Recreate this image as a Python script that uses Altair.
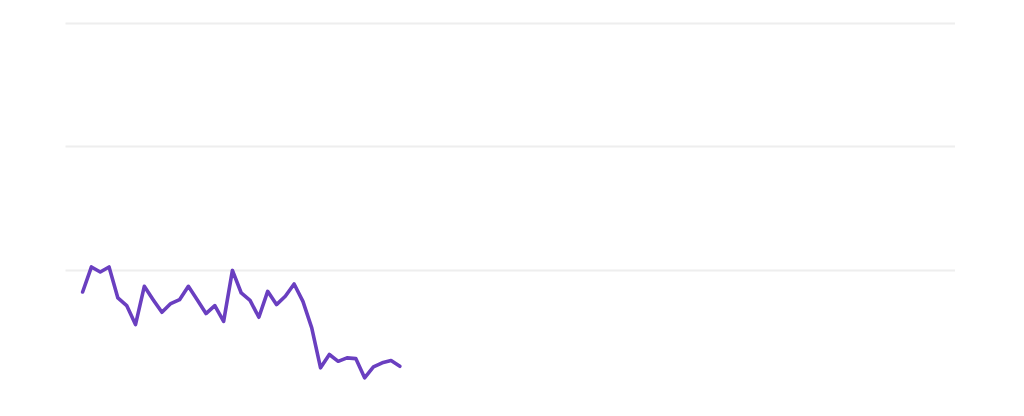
import altair as alt
import pandas as pd

steps = list(range(2, 39))
values = [81.9, 102.2, 98.1, 102.2, 77.1, 70.9, 55.5, 86.5, 75.7, 65.4,
          72.5, 75.7, 86.5, 75.7, 64.4, 70.9, 58.1, 99.4, 81.1, 75.1,
          61.4, 82.4, 71.7, 78.4, 88.4, 74.3, 52.8, 20.4, 31.2, 25.7,
          28.5, 27.9, 12.3, 21.2, 24.5, 26.3, 21.7]
grid_ticks = [100, 200, 300]

df = pd.DataFrame({"step": steps, "value": values})

chart = alt.Chart(df).mark_line(color="#6a3fc0", strokeWidth=3.6, interpolate="linear",
                                strokeJoin="round", strokeCap="round").encode(
    x=alt.X("step:Q", scale=alt.Scale(domain=[0, 101], nice=False, zero=False),
            axis=alt.Axis(labels=False, ticks=False, domain=False, grid=False, title=None)),
    y=alt.Y("value:Q", scale=alt.Scale(domain=[0, 300], nice=False),
            axis=alt.Axis(labels=False, ticks=False, domain=False, grid=True, title=None,
                          values=grid_ticks, gridColor="#eeeeee", gridWidth=2)),
).properties(
    width=890, height=370,
    autosize=alt.AutoSizeParams(type="none"),
    padding={"left": 57, "top": 15, "right": 0, "bottom": 0},
).configure_view(stroke=None)

chart.save("out.html", embed_options={"renderer": "svg", "actions": False})
